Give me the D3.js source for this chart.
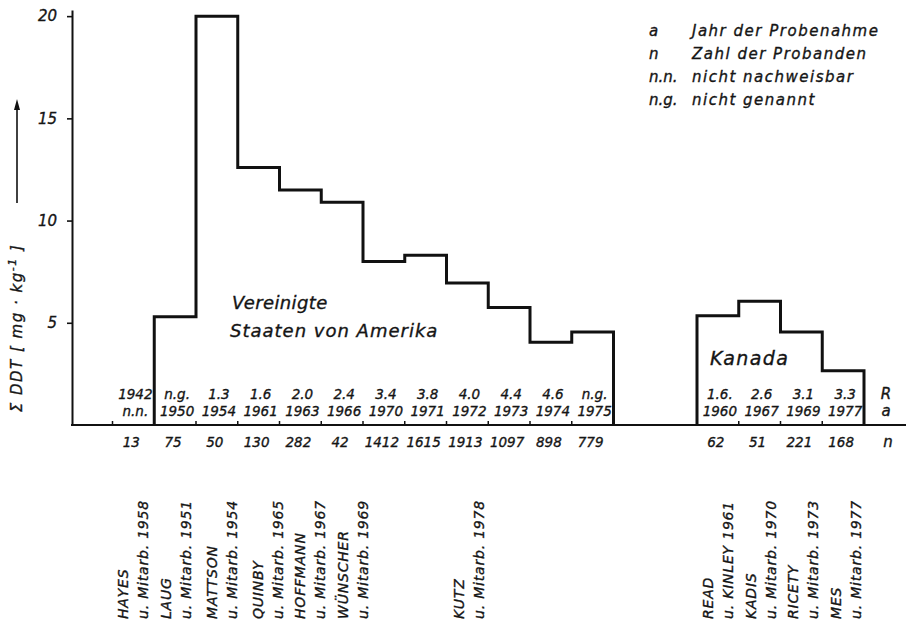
<!DOCTYPE html>
<html>
<head>
<meta charset="utf-8">
<script src="https://cdn.jsdelivr.net/npm/d3@7"></script>
<style>
  html, body { margin: 0; padding: 0; background: #fff; }
  svg { display: block; }
  text { font-family: "DejaVu Sans", sans-serif; font-style: italic; fill: #151515; stroke: #151515; stroke-width: 0.35px; }
</style>
</head>
<body>
<svg id="chart" width="909" height="627"></svg>
<script>
// ΣDDT in human fat (mg/kg), USA and Canada, by study
const usTop     = ["1942", "n.g.", "1.3", "1.6", "2.0", "2.4", "3.4", "3.8", "4.0", "4.4", "4.6", "n.g."];
const usYear    = ["n.n.", "1950", "1954", "1961", "1963", "1966", "1970", "1971", "1972", "1973", "1974", "1975"];
const usN       = [13, 75, 50, 130, 282, 42, 1412, 1615, 1913, 1097, 898, 779];
const usDDT     = [null, 5.3, 20.0, 12.6, 11.5, 10.9, 8.0, 8.3, 6.95, 5.75, 4.05, 4.55];

const caTop     = ["1.6.", "2.6", "3.1", "3.3"];
const caYear    = ["1960", "1967", "1969", "1977"];
const caN       = [62, 51, 221, 168];
const caDDT     = [5.35, 6.05, 4.55, 2.65];

const yTicks    = [5, 10, 15, 20];

// literature sources: name, co-authors + year, study column they refer to
const authorNames = ["HAYES", "LAUG", "MATTSON", "QUINBY", "HOFFMANN", "WÜNSCHER", "KUTZ",
                     "READ", "KADIS", "RICETY", "MES"];
const authorRefs  = ["u. Mitarb. 1958", "u. Mitarb. 1951", "u. Mitarb. 1954", "u. Mitarb. 1965",
                     "u. Mitarb. 1967", "u. Mitarb. 1969", "u. Mitarb. 1978",
                     "u. KINLEY 1961", "u. Mitarb. 1970", "u. Mitarb. 1973", "u. Mitarb. 1977"];
const authorCol   = [0, 1, 2, 3, 4, 5, 8, 14, 15, 16, 17];

const legendKeys  = ["a", "n", "n.n.", "n.g."];
const legendTexts = ["Jahr der Probenahme", "Zahl der Probanden", "nicht nachweisbar", "nicht genannt"];

// ---- layout ----
const svg = d3.select("#chart");
const caStart = usDDT.length + 2;          // two empty columns between the groups
const nCols = caStart + caDDT.length;       // 18
const x = d3.scaleLinear().domain([0, nCols]).range([112.5, 864]);
const colW = x(1) - x(0);
const y = d3.scaleLinear().domain([0, 20.3]).range([425, 10]);
const axisX = 72;
const labelNudge = [0, 1, 5, 9, 10, 11, 2, 0, 1, 2, 3];

// y axis
const yAxis = svg.append("g")
  .attr("transform", `translate(${axisX},0)`)
  .call(d3.axisLeft(y).tickValues(yTicks).tickSize(5).tickSizeOuter(0).tickPadding(8));
yAxis.select(".domain").attr("stroke", "#111").attr("stroke-width", 2);
yAxis.selectAll(".tick line").attr("stroke", "#111").attr("stroke-width", 1.6);
yAxis.selectAll(".tick text")
  .attr("font-family", "DejaVu Sans").attr("font-style", "italic")
  .attr("font-size", 15).attr("fill", "#151515").attr("dx", -2);

// baseline
svg.append("line")
  .attr("x1", axisX - 1).attr("x2", 906)
  .attr("y1", y(0)).attr("y2", y(0))
  .attr("stroke", "#111").attr("stroke-width", 2);

// small column ticks
const tickCols = d3.range(0, usDDT.length + 1).concat(d3.range(caStart, nCols + 1));
svg.append("g").selectAll("line").data(tickCols).join("line")
  .attr("x1", d => x(d)).attr("x2", d => x(d))
  .attr("y1", y(0)).attr("y2", y(0) - 4)
  .attr("stroke", "#111").attr("stroke-width", 1.5);

// stepped outlines
function outline(values, start) {
  const pts = [];
  const first = values.findIndex(v => v != null);
  pts.push([x(start + first), y(0)]);
  values.forEach((v, i) => {
    if (v == null) return;
    pts.push([x(start + i), y(v)], [x(start + i + 1), y(v)]);
  });
  pts.push([x(start + values.length), y(0)]);
  return pts;
}
const line = d3.line();
[[usDDT, 0], [caDDT, caStart]].forEach(([vals, start]) => {
  svg.append("path")
    .attr("d", line(outline(vals, start)))
    .attr("fill", "none").attr("stroke", "#111")
    .attr("stroke-width", 3).attr("stroke-linejoin", "miter");
});

// column labels (R, year, n)
function columnLabels(top, year, n, start) {
  const g = svg.append("g").attr("font-size", 13.5);
  g.selectAll("text.top").data(top).join("text")
    .attr("x", (d, i) => x(start + i) + colW / 2 + 2).attr("y", 399)
    .attr("text-anchor", "middle").text(d => d);
  g.selectAll("text.yr").data(year).join("text")
    .attr("x", (d, i) => x(start + i) + colW / 2 + 2).attr("y", 416)
    .attr("text-anchor", "middle").text(d => d);
  g.selectAll("text.n").data(n).join("text")
    .attr("x", (d, i) => x(start + i) + colW / 2 - 2).attr("y", 447)
    .attr("text-anchor", "middle")
    .attr("font-family", "DejaVu Sans Condensed").attr("font-size", 13.5)
    .text(d => d);
}
columnLabels(usTop, usYear, usN, 0);
columnLabels(caTop, caYear, caN, caStart);

// row captions at right
const capX = x(nCols) + 22;
svg.append("text").attr("x", capX).attr("y", 399).attr("text-anchor", "middle").attr("font-size", 15).text("R");
svg.append("text").attr("x", capX).attr("y", 416).attr("text-anchor", "middle").attr("font-size", 15).text("a");
svg.append("text").attr("x", capX + 2).attr("y", 447).attr("text-anchor", "middle").attr("font-size", 15).text("n");

// group names
svg.append("text").attr("x", 232).attr("y", 309).attr("font-size", 18).attr("letter-spacing", 0.4).text("Vereinigte");
svg.append("text").attr("x", 230).attr("y", 337).attr("font-size", 18).attr("letter-spacing", 1).text("Staaten von Amerika");
svg.append("text").attr("x", 710).attr("y", 365).attr("font-size", 19).attr("letter-spacing", 1.4).text("Kanada");

// legend
const leg = svg.append("g").attr("font-size", 15);
leg.selectAll("text.k").data(legendKeys).join("text")
  .attr("x", 649).attr("y", (d, i) => 36 + i * 23).text(d => d);
leg.selectAll("text.t").data(legendTexts).join("text")
  .attr("x", 692).attr("y", (d, i) => 36 + i * 23).attr("letter-spacing", 1.5).text(d => d);

// y axis title with arrow
const yt = svg.append("text")
  .attr("transform", `translate(22,${(240 + 416) / 2}) rotate(-90)`)
  .attr("text-anchor", "middle").attr("font-size", 15).attr("letter-spacing", 1.5);
yt.append("tspan").text("Σ DDT [ mg · kg");
yt.append("tspan").attr("dy", -6).attr("font-size", 11).text("-1");
yt.append("tspan").attr("dy", 6).text(" ]");

svg.append("line").attr("x1", 17).attr("x2", 17).attr("y1", 203).attr("y2", 108)
  .attr("stroke", "#111").attr("stroke-width", 1.6);
svg.append("path")
  .attr("d", d3.line()([[17, 99], [14, 110], [20, 110]]) + "Z")
  .attr("fill", "#111");

// literature sources, rotated
const authors = svg.append("g").attr("font-size", 14).attr("letter-spacing", 0.8);
authorNames.forEach((name, i) => {
  const cx = x(authorCol[i]) + colW / 2 + labelNudge[i];
  authors.append("text")
    .attr("transform", `translate(${cx - 10},619) rotate(-90)`)
    .attr("dy", "0.35em").text(name);
  authors.append("text")
    .attr("transform", `translate(${cx + 10},619) rotate(-90)`)
    .attr("dy", "0.35em").text(authorRefs[i]);
});
</script>
</body>
</html>
